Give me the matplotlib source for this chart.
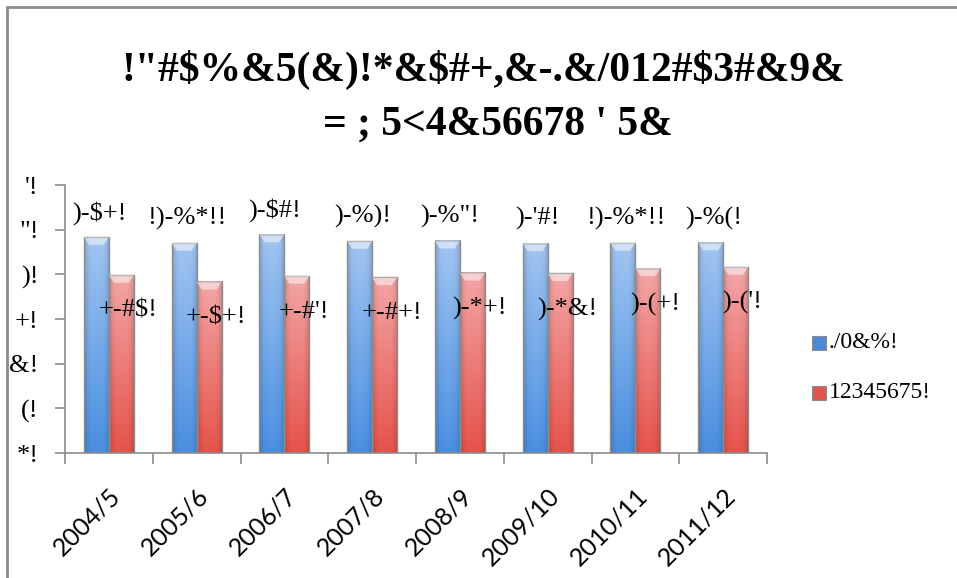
import numpy as np
import matplotlib
matplotlib.use("Agg")
import matplotlib.pyplot as plt
from matplotlib.patches import Polygon, Rectangle
from matplotlib.colors import to_rgb

# chart data
categories = ['2004/5', '2005/6', '2006/7', '2007/8',
              '2008/9', '2009/10', '2010/11', '2011/12']
series_names = ['./0&%!', '12345675!']
blue_vals = [4.83, 4.70, 4.89, 4.74, 4.75, 4.69, 4.70, 4.71]
red_vals = [3.98, 3.83, 3.96, 3.93, 4.03, 4.02, 4.13, 4.16]
blue_labels = [')-$+!', '!)-%*!!', ')-$#!', ')-%)!', ')-%"!', ")-'#!", '!)-%*!!', ')-%(!']
red_labels = ['+-#$!', '+-$+!', "+-#'!", '+-#+!', ')-*+!', ')-*&!', ')-(+!', ")-('!"]
ytick_vals = [0, 1, 2, 3, 4, 5, 6]
ytick_labels = ['*!', '(!', '&!', '+!', ')!', '"!', "'!"]
title_lines = ['!"#$%&5(&)!*&$#+,&-.&/012#$3#&9&', "= ; 5<4&56678 ' 5&"]

serif = ['Liberation Serif', 'DejaVu Serif']


def gradient_bar(ax, x, h, w, top, bottom):
    """Draw one bar with a vertical colour gradient and a bevelled top."""
    top, bottom = np.array(to_rgb(top)), np.array(to_rgb(bottom))
    ny, nx = 64, 16
    t = np.linspace(0, 1, ny)[:, None, None]
    img = top * (1 - t) + bottom * t
    # darker at the sides
    s = np.abs(np.linspace(-1, 1, nx))[None, :, None]
    img = img * (1 - 0.18 * s ** 4)
    img = np.clip(img, 0, 1)
    ax.imshow(img, extent=(x - w / 2, x + w / 2, 0, h), aspect='auto',
              origin='upper', zorder=2, interpolation='bilinear')
    ax.add_patch(Rectangle((x - w / 2, 0), w, h, fill=False,
                           edgecolor='#8c8c8c', lw=1.0, zorder=3))
    bev = 0.17
    ax.add_patch(Polygon([(x - w / 2, h), (x + w / 2, h),
                          (x + w / 2 - w * 0.2, h - bev),
                          (x - w / 2 + w * 0.2, h - bev)],
                         closed=True, facecolor='white', alpha=0.5,
                         edgecolor='none', zorder=3))


fig = plt.figure(figsize=(9.57, 5.78), dpi=100)
ax = fig.add_axes([65 / 957, 125 / 578, 702 / 957, 268 / 578])

x = np.arange(len(categories))
w = 0.285
for i in x:
    gradient_bar(ax, i - w / 2, blue_vals[i], w, '#a2c5f2', '#4a8fe0')
    gradient_bar(ax, i + w / 2, red_vals[i], w, '#f3a6a6', '#e6534b')
    ax.text(i - w / 2 + 0.03, blue_vals[i] + 0.55, blue_labels[i],
            ha='center', va='center', fontsize=19, family=serif,
            clip_on=False, zorder=5)
    ax.text(i + w / 2 + 0.08, red_vals[i] - 0.8, red_labels[i],
            ha='center', va='center', fontsize=19, family=serif, zorder=5)

ax.set_xlim(-0.5, len(categories) - 0.5)
ax.set_ylim(0, 6)

ax.set_yticks(ytick_vals)
ax.set_yticklabels(ytick_labels, family=serif, fontsize=19)
ax.set_xticks(x)
ax.set_xticklabels(categories, rotation=45, ha='right', rotation_mode='anchor',
                   fontsize=18, family=['Lato', 'DejaVu Sans'])
ax.tick_params(axis='x', length=0, pad=22)
ax.set_xticks(np.arange(-0.5, len(categories)), minor=True)
ax.tick_params(axis='x', which='minor', length=8, color='#8c8c8c', width=1.2)
ax.tick_params(axis='y', length=7, color='#8c8c8c', width=1.2, pad=12)

for side in ['top', 'right']:
    ax.spines[side].set_visible(False)
for side in ['left', 'bottom']:
    ax.spines[side].set_color('#8c8c8c')
    ax.spines[side].set_linewidth(1.2)

# legend entries drawn as small squares with text
for k, (name, c2) in enumerate([(series_names[0], '#4a8ad8'),
                                (series_names[1], '#e0554d')]):
    yy = 343 + 50 * k
    fig.patches.append(Rectangle((812 / 957, 1 - (yy + 7) / 578), 14 / 957, 14 / 578,
                                 transform=fig.transFigure, facecolor=c2,
                                 edgecolor='#8c8c8c', lw=0.8))
    fig.text(829 / 957, 1 - yy / 578, name, va='center', ha='left',
             fontsize=17, family=serif)

# title
fig.text(483 / 957, 1 - 70 / 578, title_lines[0], ha='center', va='center',
         fontsize=30, weight='bold', family=serif)
fig.text(498 / 957, 1 - 125 / 578, title_lines[1], ha='center', va='center',
         fontsize=30, weight='bold', family=serif)

# chart area border (left and top edges)
fig.patches.append(Rectangle((7 / 957, -0.1), 1.2, 1 - 7 / 578 + 0.1,
                             transform=fig.transFigure, fill=False,
                             edgecolor='#8c8c8c', lw=2))

fig.savefig('out.png', dpi=100)
